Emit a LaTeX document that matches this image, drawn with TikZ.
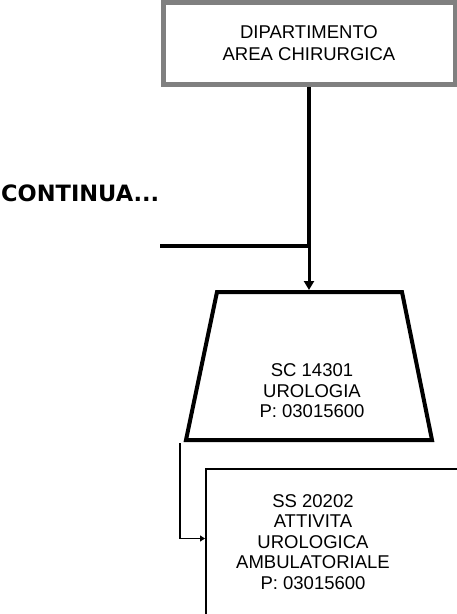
\documentclass[tikz,border=0pt]{standalone}
\usepackage{fontspec}
\setmainfont{Liberation Sans}
\newfontfamily\contfont{DejaVu Sans}
\usetikzlibrary{arrows.meta}
\definecolor{deptgray}{RGB}{128,128,128}
\tikzstyle{orgtext}=[align=center, font=\fontsize{18.5}{20.5}\selectfont, inner sep=0pt]
\tikzstyle{dept}=[draw=deptgray, line width=5pt, minimum width=292pt, minimum height=82pt, align=center, font=\fontsize{18.5}{22}\selectfont, inner sep=0pt]
\tikzstyle{trapline}=[line width=4pt, line join=miter]
\tikzstyle{subbox}=[draw, line width=2pt, minimum width=290pt, minimum height=170pt, anchor=north west]
\tikzstyle{thickline}=[line width=4pt]
\tikzstyle{arr}=[line width=3pt, -{Triangle[length=9pt,width=10pt]}]
\tikzstyle{thinarr}=[line width=1.5pt, -{Triangle[length=5pt,width=6pt]}]

\begin{document}
\begin{tikzpicture}[x=1pt, y=-1pt]
    \useasboundingbox (0,0) rectangle (457,614);
    \clip (0,0) rectangle (457,614);
    \node[dept] (dept) at (309,43.5) {DIPARTIMENTO\\AREA CHIRURGICA};
    \node[font=\contfont\bfseries\fontsize{22.5}{24}\selectfont, anchor=west, inner sep=0pt] (cont) at (1,193) {CONTINUA...};
    \coordinate (contend) at (160,246);
    \coordinate (join) at (309,246);
    % trapezoid for the SC
    \coordinate (urotl) at (217,292);
    \coordinate (urotr) at (402,292);
    \coordinate (urobr) at (432,440);
    \coordinate (urobl) at (186,440);
    \draw[trapline] (urotl) -- (urotr) -- (urobr) -- (urobl) -- cycle;
    \coordinate (urotop) at (309,290);
    \node[orgtext] (uro) at (312,391) {SC 14301\\UROLOGIA\\P: 03015600};
    \node[subbox] (ss) at (205,467.5) {};
    \node[orgtext] (sstxt) at (313,542) {SS 20202\\ATTIVITA\\UROLOGICA\\AMBULATORIALE\\P: 03015600};
    \coordinate (tap) at (180,443);
    \draw[thickline] (dept.south) -- (join);
    \draw[thickline] (contend) -- ([xshift=2pt]join);
    \draw[arr] (join) -- (urotop);
    \draw[thinarr] (tap) |- ([yshift=-71pt]ss.north west);
\end{tikzpicture}
\end{document}
